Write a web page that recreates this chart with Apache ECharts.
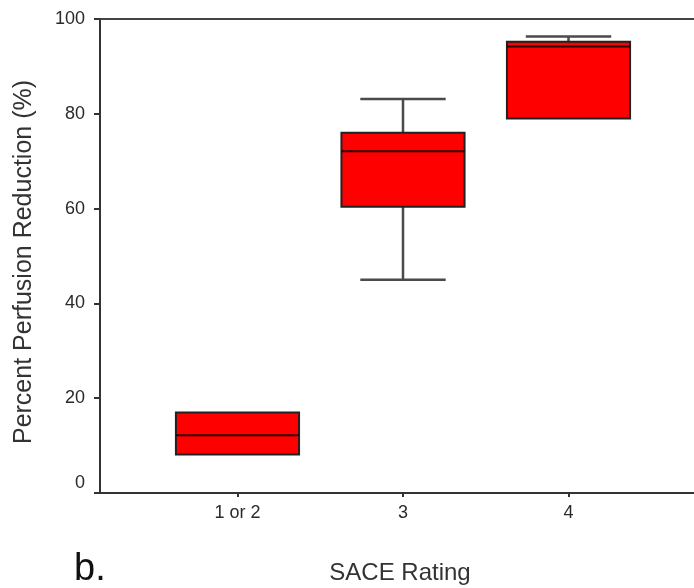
<!DOCTYPE html>
<html>
<head>
<meta charset="utf-8">
<script src="https://cdn.jsdelivr.net/npm/echarts@6/dist/echarts.min.js"></script>
<style>
html,body{margin:0;padding:0;background:#fff;}
#chart{width:694px;height:588px;}
</style>
</head>
<body>
<div id="chart"></div>
<script>
// ---- data ----
const categories = ['1 or 2', '3', '4'];
const positions = [1, 2, 3];
const whiskerLow = [8.1, 45.0, 79.0];
const q1 = [8.1, 60.4, 79.0];
const median = [12.2, 72.1, 94.2];
const q3 = [17.0, 76.0, 95.2];
const whiskerHigh = [17.0, 83.1, 96.3];
const yTicks = [0, 20, 40, 60, 80, 100];

const boxData = positions.map((p, i) => [p, whiskerLow[i], q1[i], median[i], q3[i], whiskerHigh[i]]);

const chart = echarts.init(document.getElementById('chart'), null, {renderer: 'canvas'});
const FONT = 'Liberation Sans, Arial, sans-serif';

function renderBox(params, api) {
  const x = api.value(0);
  const lo = api.value(1), a = api.value(2), m = api.value(3), b = api.value(4), hi = api.value(5);
  const boxHalf = 0.372, capHalf = 0.258;
  const P = (xx, v) => api.coord([xx, v]);
  const children = [];
  const wStyle = {stroke: '#4a4a4a', lineWidth: 2.5};
  if (lo < a) {
    const p1 = P(x, lo), p2 = P(x, a);
    children.push({type: 'line', shape: {x1: p1[0], y1: p1[1], x2: p2[0], y2: p2[1]}, style: wStyle});
    const c1 = P(x - capHalf, lo), c2 = P(x + capHalf, lo);
    children.push({type: 'line', shape: {x1: c1[0], y1: c1[1], x2: c2[0], y2: c2[1]}, style: wStyle});
  }
  if (hi > b) {
    const p1 = P(x, b), p2 = P(x, hi);
    children.push({type: 'line', shape: {x1: p1[0], y1: p1[1], x2: p2[0], y2: p2[1]}, style: wStyle});
    const c1 = P(x - capHalf, hi), c2 = P(x + capHalf, hi);
    children.push({type: 'line', shape: {x1: c1[0], y1: c1[1], x2: c2[0], y2: c2[1]}, style: wStyle});
  }
  const tl = P(x - boxHalf, b), br = P(x + boxHalf, a);
  children.push({type: 'rect', shape: {x: tl[0], y: tl[1], width: br[0] - tl[0], height: br[1] - tl[1]},
    style: {fill: '#ff0000', stroke: '#222', lineWidth: 2}});
  const m1 = P(x - boxHalf, m), m2 = P(x + boxHalf, m);
  children.push({type: 'line', shape: {x1: m1[0], y1: m1[1], x2: m2[0], y2: m2[1]}, style: {stroke: '#2a0000', lineWidth: 2}});
  return {type: 'group', children};
}

const X_MIN = 0.1692, X_MAX = 3.7583;

chart.setOption({
  animation: false,
  backgroundColor: '#fff',
  grid: {left: 100, right: 0, top: 19, bottom: 95, show: false},
  xAxis: [{
    type: 'value', min: X_MIN, max: X_MAX,
    splitLine: {show: false},
    axisLine: {show: true, lineStyle: {color: '#333', width: 2}},
    axisTick: {show: true, customValues: positions, length: 4, lineStyle: {color: '#333', width: 2}},
    axisLabel: {customValues: positions, margin: 11, color: '#2a2a2a', fontSize: 18, fontFamily: FONT,
      formatter: v => { const i = positions.indexOf(v); return i >= 0 ? categories[i] : ''; }}
  }, {
    type: 'value', position: 'top', min: X_MIN, max: X_MAX,
    splitLine: {show: false},
    axisLine: {show: true, lineStyle: {color: '#444', width: 2}},
    axisTick: {show: false}, axisLabel: {show: false}
  }],
  yAxis: {
    type: 'value', min: yTicks[0], max: yTicks[yTicks.length - 1], interval: 20,
    splitLine: {show: false},
    axisLine: {show: true, lineStyle: {color: '#333', width: 2}},
    axisTick: {show: true, length: 6, lineStyle: {color: '#333', width: 2}},
    axisLabel: {margin: 15, color: '#2a2a2a', fontSize: 18, fontFamily: FONT,
      formatter: v => v === yTicks[0] ? '{z|' + v + '}' : String(v),
      rich: {z: {fontSize: 18, fontFamily: FONT, color: '#2a2a2a', padding: [0, 0, 20, 0]}}}
  },
  graphic: [
    {type: 'text', x: 24, y: 262, rotation: Math.PI / 2,
      style: {text: 'Percent Perfusion Reduction (%)', fill: '#333', font: '25px ' + FONT, align: 'center', verticalAlign: 'middle'}},
    {type: 'text', x: 400, y: 573,
      style: {text: 'SACE Rating', fill: '#333', font: '24px ' + FONT, align: 'center', verticalAlign: 'middle'}},
    {type: 'text', x: 74, y: 570,
      style: {text: 'b.', fill: '#111', font: '38px ' + FONT, align: 'left', verticalAlign: 'middle'}}
  ],
  series: [{
    type: 'custom',
    renderItem: renderBox,
    xAxisIndex: 0,
    encode: {x: 0, y: [1, 2, 3, 4, 5]},
    data: boxData
  }]
});
</script>
</body>
</html>
